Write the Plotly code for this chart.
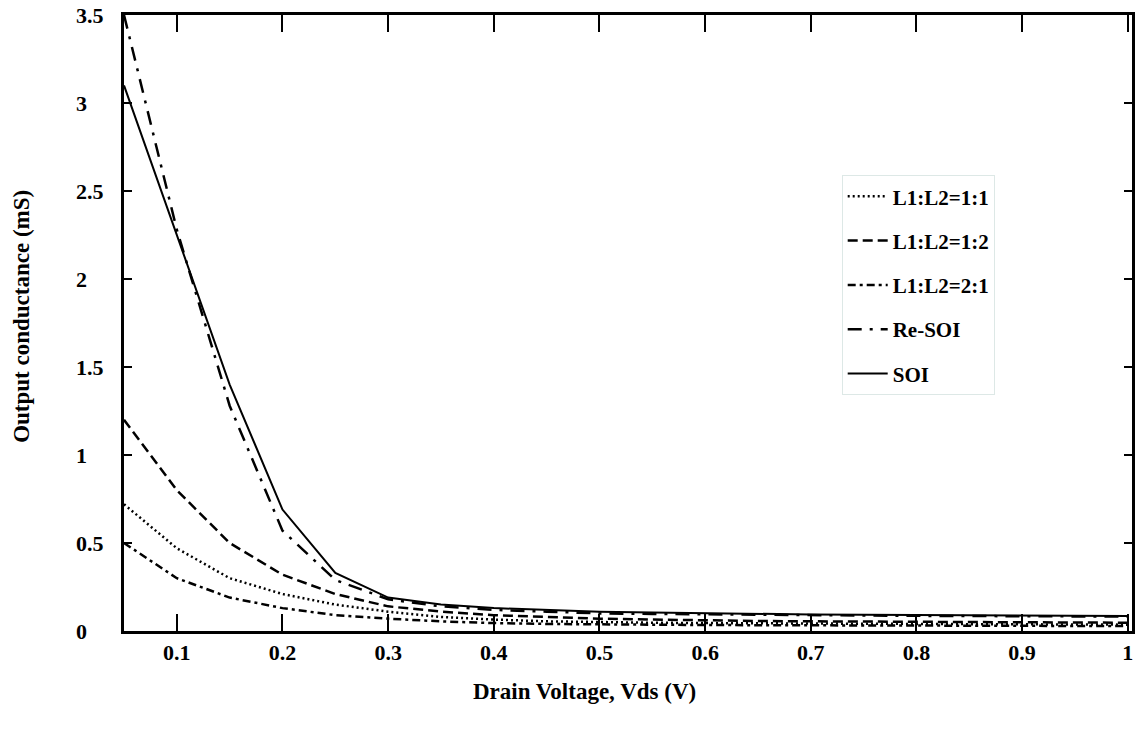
import plotly.graph_objects as go

vds = [0.05, 0.10, 0.15, 0.20, 0.25, 0.30, 0.35, 0.40, 0.45, 0.50,
       0.55, 0.60, 0.65, 0.70, 0.75, 0.80, 0.85, 0.90, 0.95, 1.00]

g_11 = [0.72, 0.47, 0.30, 0.21, 0.15, 0.11, 0.08, 0.065, 0.055, 0.05,
        0.047, 0.045, 0.043, 0.042, 0.041, 0.040, 0.039, 0.038, 0.037, 0.036]
g_12 = [1.20, 0.80, 0.50, 0.32, 0.21, 0.14, 0.11, 0.09, 0.08, 0.07,
        0.065, 0.060, 0.057, 0.055, 0.053, 0.051, 0.050, 0.049, 0.048, 0.047]
g_21 = [0.50, 0.30, 0.19, 0.13, 0.09, 0.07, 0.055, 0.045, 0.040, 0.037,
        0.035, 0.034, 0.033, 0.032, 0.031, 0.030, 0.030, 0.029, 0.029, 0.028]
g_resoi = [3.50, 2.28, 1.28, 0.57, 0.29, 0.18, 0.14, 0.12, 0.11, 0.10,
           0.097, 0.094, 0.092, 0.090, 0.088, 0.086, 0.085, 0.084, 0.083, 0.082]
g_soi = [3.10, 2.25, 1.40, 0.69, 0.33, 0.19, 0.15, 0.13, 0.12, 0.11,
         0.105, 0.100, 0.097, 0.094, 0.092, 0.090, 0.088, 0.087, 0.086, 0.085]

names = ["L1:L2=1:1", "L1:L2=1:2", "L1:L2=2:1", "Re-SOI", "SOI"]
series = [g_11, g_12, g_21, g_resoi, g_soi]
dashes = ["2px,3px", "10px,5px", "8px,4px,3px,4px", "14px,8px,3px,8px", "solid"]
widths = [2.5, 2.5, 2.5, 2.5, 2]

x_ticks = [0.1, 0.2, 0.3, 0.4, 0.5, 0.6, 0.7, 0.8, 0.9, 1.0]
x_tick_text = ["0.1", "0.2", "0.3", "0.4", "0.5", "0.6", "0.7", "0.8", "0.9", "1"]
y_ticks = [0, 0.5, 1, 1.5, 2, 2.5, 3, 3.5]
y_tick_text = ["0", "0.5", "1", "1.5", "2", "2.5", "3", "3.5"]

FONT = "Liberation Serif"

fig = go.Figure()
for i, (nm, ys) in enumerate(zip(names, series)):
    fig.add_trace(go.Scatter(
        x=vds, y=ys, mode="lines", name=nm, legendgroup=f"g{i}",
        line=dict(color="black", width=widths[i], dash=dashes[i]),
    ))

for v, t in zip(y_ticks, y_tick_text):
    fig.add_annotation(x=0, xref="paper", y=v, yref="y", text=t,
                       showarrow=False, xanchor="left", yanchor="middle",
                       xshift=-50,
                       font=dict(family=FONT, size=22, color="black", weight="bold"))

fig.add_annotation(x=0.457, xref="paper", y=-0.098, yref="paper",
                   text="Drain Voltage, Vds (V)", showarrow=False,
                   xanchor="center", yanchor="middle",
                   font=dict(family=FONT, size=23, color="black", weight="bold"))
fig.add_annotation(x=0, xref="paper", xshift=-102, y=0.51, yref="paper",
                   text="Output conductance (mS)", showarrow=False,
                   textangle=-90, xanchor="center", yanchor="middle",
                   font=dict(family=FONT, size=23, color="black", weight="bold"))

fig.update_layout(
    width=1135, height=738,
    margin=dict(l=124, r=0, t=15, b=107),
    paper_bgcolor="white", plot_bgcolor="white",
    font=dict(family=FONT, size=18, color="black"),
    showlegend=True,
    legend=dict(x=0.712, y=0.74, xanchor="left", yanchor="top",
                bgcolor="rgba(255,255,255,0)", bordercolor="#dde8e6", borderwidth=1,
                font=dict(family=FONT, size=21, color="black", weight="bold"),
                tracegroupgap=14, itemwidth=40),
    xaxis=dict(range=[0.05, 1.004], tickvals=x_ticks, ticktext=x_tick_text,
               ticks="inside", ticklen=17, tickwidth=2, tickcolor="black",
               showline=True, linewidth=3, linecolor="black", mirror="ticks",
               showgrid=False, zeroline=False,
               tickfont=dict(family=FONT, size=22, color="black", weight="bold")),
    yaxis=dict(range=[0, 3.5], tickvals=y_ticks, showticklabels=False,
               ticks="inside", ticklen=8, tickwidth=2, tickcolor="black",
               showline=True, linewidth=3, linecolor="black", mirror="ticks",
               showgrid=False, zeroline=False),
)

fig.write_html("out.html")
